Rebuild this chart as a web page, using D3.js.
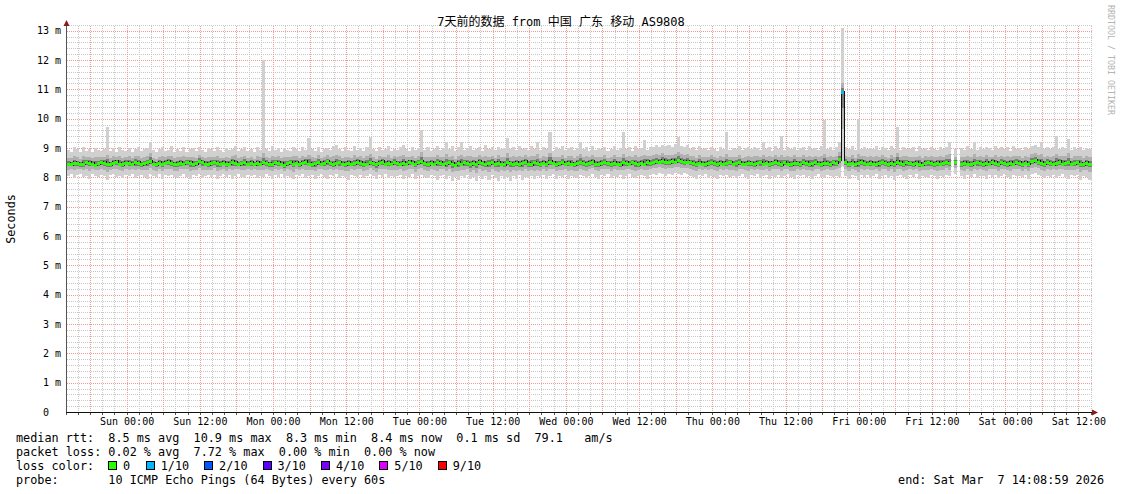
<!DOCTYPE html>
<html><head><meta charset="utf-8">
<script src="https://cdn.jsdelivr.net/npm/d3@7"></script>
<style>
body{margin:0;background:#fff}
svg text{font-family:"DejaVu Sans Mono","Noto Sans CJK SC",monospace;white-space:pre}
</style>
</head><body>
<svg id="c" width="1121" height="494" xmlns="http://www.w3.org/2000/svg"></svg>
<script>
// ---------- data ----------
const endTime = new Date(Date.UTC(2026, 2, 7, 14, 8, 59));
const stepMinutes = 30;
const titleText = "7天前的数据 from 中国 广东 移动 AS9808";
const yAxisTitle = "Seconds";
const watermark = "RRDTOOL / TOBI OETIKER";
const yTickValues = [0,1,2,3,4,5,6,7,8,9,10,11,12,13];
const xTickLabels = ["Sun 00:00","Sun 12:00","Mon 00:00","Mon 12:00","Tue 00:00","Tue 12:00","Wed 00:00","Wed 12:00","Thu 00:00","Thu 12:00","Fri 00:00","Fri 12:00","Sat 00:00","Sat 12:00"];
const lossLabels = ["0","1/10","2/10","3/10","4/10","5/10","9/10"];
const lossColors = ["#26ff00","#00b8ff","#0059ff","#5e00ff","#7e00ff","#dd00ff","#ff0000"];
const statsLines = [
  "median rtt:  8.5 ms avg  10.9 ms max  8.3 ms min  8.4 ms now  0.1 ms sd  79.1   am/s",
  "packet loss: 0.02 % avg  7.72 % max  0.00 % min  0.00 % now"
];
const probeText = "probe:       10 ICMP Echo Pings (64 Bytes) every 60s";
const endText = "end: Sat Mar  7 14:08:59 2026";

// median rtt per 30-min step (ms)
const med = [
8.47,8.45,8.50,8.48,8.44,8.46,8.52,8.49,8.47,8.43,8.48,8.51,
8.50,8.46,8.44,8.49,8.53,8.47,8.45,8.50,8.48,8.46,8.52,8.49,
8.45,8.48,8.51,8.55,8.47,8.44,8.49,8.46,8.50,8.53,8.48,8.45,
8.47,8.50,8.46,8.52,8.49,8.44,8.48,8.55,8.51,8.47,8.45,8.49,
8.52,8.48,8.46,8.50,8.44,8.47,8.53,8.49,8.45,8.48,8.51,8.46,
8.49,8.45,8.50,8.47,8.52,8.48,8.44,8.46,8.51,8.49,8.47,8.43,
8.48,8.52,8.46,8.50,8.45,8.49,8.53,8.47,8.44,8.48,8.51,8.46,
8.50,8.55,8.48,8.45,8.49,8.52,8.47,8.44,8.50,8.46,8.48,8.53,
8.49,8.45,8.47,8.51,8.48,8.44,8.50,8.53,8.47,8.49,8.46,8.52,
8.48,8.45,8.50,8.47,8.53,8.49,8.46,8.51,8.55,8.48,8.44,8.50,
8.47,8.52,8.49,8.45,8.48,8.51,8.46,8.43,8.49,8.47,8.52,8.48,
8.45,8.50,8.47,8.53,8.49,8.44,8.48,8.51,8.46,8.50,8.47,8.45,
8.52,8.48,8.46,8.50,8.44,8.49,8.53,8.47,8.45,8.51,8.48,8.46,
8.50,8.47,8.54,8.49,8.45,8.48,8.52,8.46,8.50,8.47,8.44,8.49,
8.51,8.48,8.46,8.50,8.53,8.47,8.45,8.49,8.52,8.48,8.46,8.50,
8.47,8.44,8.51,8.49,8.46,8.52,8.48,8.45,8.50,8.47,8.53,8.49,
8.52,8.55,8.53,8.57,8.54,8.52,8.56,8.53,8.58,8.55,8.52,8.54,
8.51,8.48,8.46,8.50,8.47,8.44,8.49,8.52,8.48,8.45,8.50,8.47,
8.49,8.52,8.46,8.48,8.51,8.45,8.47,8.50,8.48,8.44,8.49,8.52,
8.47,8.50,8.46,8.49,8.53,8.48,8.45,8.51,8.47,8.44,8.50,8.48,
8.46,8.51,8.49,8.45,8.48,8.52,8.47,8.44,8.50,8.48,8.46,8.51,
8.49,8.62,10.90,8.52,8.47,8.50,8.45,8.49,8.53,8.48,8.46,8.50,
8.47,8.44,8.49,8.52,8.48,8.45,8.50,8.47,8.53,8.49,8.46,8.51,
8.48,8.45,8.50,8.47,8.43,8.49,8.52,8.48,8.46,8.50,8.47,8.49,
8.52,8.48,null,8.51,null,8.46,8.50,8.47,8.44,8.49,8.52,8.48,
8.45,8.50,8.47,8.53,8.49,8.46,8.51,8.48,8.45,8.50,8.47,8.52,
8.49,8.46,8.50,8.47,8.55,8.58,8.53,8.49,8.46,8.51,8.48,8.45,
8.50,8.53,8.47,8.49,8.52,8.46,8.48,8.51,8.47,8.44,8.49,8.46
];
// lowest ping per step (ms)
const lo = [
8.05,8.10,7.98,8.08,8.12,8.02,8.06,7.95,8.10,8.04,8.00,8.09,
8.03,7.92,8.08,8.11,8.01,8.06,7.97,8.09,8.04,8.12,7.99,8.05,
8.08,8.02,7.96,8.10,8.05,8.00,8.11,7.94,8.07,8.03,8.09,8.01,
7.98,8.06,8.10,8.02,7.93,8.08,8.04,8.11,7.99,8.05,8.07,8.00,
8.09,7.96,8.04,8.10,8.02,8.07,7.95,8.06,8.11,8.01,7.98,8.08,
8.03,8.09,7.97,8.05,8.00,8.10,8.04,7.94,8.08,8.02,8.11,7.99,
8.06,8.01,7.93,8.09,8.04,8.10,7.98,8.05,8.07,7.96,8.03,8.10,
8.00,7.95,8.08,8.04,8.11,7.99,8.06,8.02,7.91,8.09,8.05,8.01,
8.08,7.97,8.03,8.10,8.05,7.94,8.07,8.02,8.11,7.98,8.06,8.00,
8.04,8.09,7.96,8.06,8.01,8.10,7.93,8.05,8.08,8.02,7.98,8.07,
8.03,7.90,8.06,8.09,7.95,8.04,7.88,8.01,7.92,8.05,7.97,8.08,
7.93,8.02,7.86,8.06,7.95,8.03,7.90,8.07,7.98,7.89,8.04,7.96,
8.01,7.87,8.05,7.94,8.08,7.91,8.02,7.97,8.06,7.93,8.04,8.00,
8.07,7.96,8.03,8.10,7.95,8.05,8.01,8.08,7.94,8.06,8.02,7.97,
8.09,8.03,7.98,8.06,8.11,8.00,7.95,8.07,8.04,8.10,7.99,8.05,
8.02,8.08,7.96,8.05,8.10,8.01,7.97,8.06,8.09,8.03,7.94,8.07,
8.12,8.08,8.15,8.10,8.06,8.13,8.09,8.16,8.11,8.07,8.14,8.10,
8.05,8.01,7.96,8.08,8.03,8.10,7.98,8.06,8.02,7.95,8.07,8.04,
8.09,8.00,8.06,7.97,8.04,8.10,8.02,7.94,8.07,8.05,8.11,7.99,
8.04,8.08,7.96,8.06,8.01,8.09,7.98,8.05,8.11,8.02,7.95,8.07,
8.03,8.09,8.00,8.06,7.93,8.05,8.10,8.01,7.97,8.08,8.04,8.00,
8.06,8.02,8.40,8.05,7.96,8.08,8.03,7.90,8.07,8.01,8.09,7.98,
8.05,8.10,7.94,8.04,8.08,7.99,8.06,7.92,8.03,8.09,8.00,7.96,
8.07,8.02,8.10,7.95,8.05,8.01,7.97,8.08,8.04,7.93,8.06,8.02,
8.09,8.03,null,8.10,null,8.05,7.96,8.07,8.02,8.10,7.98,8.06,
8.04,7.94,8.08,8.01,8.09,7.97,8.05,8.10,8.02,7.95,8.07,8.03,
8.06,8.00,8.09,7.96,8.12,8.14,8.08,8.03,7.97,8.06,8.01,8.09,
7.98,8.05,8.10,8.02,7.96,8.07,8.03,8.09,7.92,8.04,8.00,7.90
];
// highest ping per step (ms)
const hi = [
8.92,8.88,9.02,8.95,8.86,9.05,8.90,8.98,8.87,9.00,8.93,8.89,
8.96,9.70,8.91,8.99,8.87,9.03,8.94,8.90,9.01,8.88,8.97,9.04,
8.89,8.95,9.00,9.20,8.92,8.86,8.98,9.02,8.90,8.94,9.06,8.88,
8.97,8.91,9.03,8.87,8.95,8.99,8.90,9.05,8.93,8.88,9.01,8.96,
8.90,9.04,8.94,8.88,9.00,8.92,8.97,9.08,8.89,8.95,9.02,8.91,
8.98,8.87,9.03,8.93,12.00,8.96,8.90,9.06,8.92,8.99,8.88,9.01,
8.94,8.90,9.05,8.97,8.89,9.02,8.93,9.35,8.98,8.91,9.04,8.87,
8.96,9.00,8.92,9.07,9.10,8.95,8.89,9.03,8.94,8.90,9.08,8.93,
8.99,8.91,9.04,9.38,8.95,8.89,9.02,8.93,8.97,9.06,8.90,8.98,
8.92,9.03,9.10,8.96,8.90,9.05,8.94,8.99,9.62,8.93,9.04,8.91,
8.97,9.06,8.92,9.01,9.20,8.95,9.08,8.90,9.03,9.20,8.94,9.00,
9.07,8.93,8.98,9.04,8.91,9.09,8.96,9.02,8.92,9.05,8.97,9.01,
9.35,8.95,9.03,8.92,9.06,8.98,9.01,8.94,9.08,8.96,9.20,8.93,
9.04,8.97,9.55,8.91,9.02,8.95,9.07,8.93,8.99,9.05,8.92,9.01,
9.20,8.96,9.03,8.90,9.06,8.94,9.00,8.97,9.04,8.91,8.98,9.06,
8.93,9.01,9.55,8.95,9.03,8.90,9.07,8.96,9.00,9.28,8.94,9.02,
9.05,9.10,9.02,9.12,9.06,9.09,9.03,9.14,9.38,9.08,9.04,9.11,
8.97,9.03,8.92,9.06,8.95,9.00,8.93,9.05,8.98,8.91,9.02,8.96,
9.55,8.94,9.01,8.97,9.06,8.92,8.99,9.04,8.95,9.05,9.00,8.93,
9.20,8.96,9.03,8.91,9.07,8.98,9.40,8.94,9.02,8.97,9.05,8.92,
8.99,9.04,8.93,9.08,8.96,9.01,8.94,9.06,9.95,8.97,9.03,8.92,
9.05,9.20,13.10,9.02,8.96,9.06,8.93,10.00,8.98,9.04,8.95,9.01,
8.97,9.06,8.92,9.03,8.99,8.94,9.07,8.96,9.70,8.93,9.04,8.98,
8.95,9.02,8.91,9.06,8.97,9.01,8.93,9.05,8.98,8.94,9.03,8.96,
9.04,9.20,null,8.95,null,9.00,8.94,9.06,8.97,9.20,8.92,9.03,
8.96,9.05,8.99,8.93,9.07,8.95,9.02,8.98,9.04,8.91,9.06,8.97,
9.00,8.94,9.03,8.97,9.08,9.12,9.05,9.20,8.95,9.02,8.98,9.04,
9.40,8.96,9.03,8.99,9.30,8.94,9.05,8.97,9.02,8.93,9.00,8.95
];
// steps with packet loss (index, lost pings out of 10)
const lossIdx = [254];
const lossTenths = [1];

// ---------- drawing ----------
const svg = d3.select("#c");
const X0 = 66.5, X1 = 1091.5, Y0 = 412, YTOP = 25.5;
const stepMs = stepMinutes * 60000;
const start = new Date(endTime.getTime() - 7 * 864e5);
const x = d3.scaleUtc().domain([start, endTime]).range([X0, X1]);
const y = d3.scaleLinear().domain([0, 13]).range([Y0, 30.7]);
const px = v => Math.round(v) + 0.5;

svg.append("rect").attr("width",1121).attr("height",494).attr("fill","#fff");

// grid
const grid = svg.append("g").attr("shape-rendering","crispEdges");
const minorY = d3.range(1, 67).filter(k => k % 5 !== 0).map(k => k / 5);
grid.selectAll(".hm").data(minorY).join("line")
  .attr("x1", X0).attr("x2", X1).attr("y1", d => px(y(d))).attr("y2", d => px(y(d)))
  .attr("stroke","#c8c8c8").attr("stroke-dasharray","1,1");
const minorX = d3.utcHour.every(2).range(start, endTime).filter(d => d.getUTCHours() % 6 !== 0);
grid.selectAll(".vm").data(minorX).join("line")
  .attr("x1", d => px(x(d))).attr("x2", d => px(x(d))).attr("y1", YTOP).attr("y2", Y0)
  .attr("stroke","#c8c8c8").attr("stroke-dasharray","1,1");
const majorX = d3.utcHour.every(6).range(start, endTime);
grid.selectAll(".vM").data(majorX).join("line")
  .attr("x1", d => px(x(d))).attr("x2", d => px(x(d))).attr("y1", YTOP).attr("y2", Y0)
  .attr("stroke","#f29a9a").attr("stroke-dasharray","1,1");
grid.selectAll(".hM").data(yTickValues.slice(1)).join("line")
  .attr("x1", X0).attr("x2", X1).attr("y1", d => px(y(d))).attr("y2", d => px(y(d)))
  .attr("stroke","#f29a9a").attr("stroke-dasharray","1,1");

// data
svg.append("clipPath").attr("id","plot").append("rect")
  .attr("x", X0).attr("y", YTOP + 2).attr("width", X1 - X0 + 1).attr("height", Y0 - YTOP - 2);
const dg = svg.append("g").attr("clip-path","url(#plot)").attr("shape-rendering","crispEdges");
const steps = med.map((m, i) => {
  const t0 = new Date(start.getTime() + i * stepMs), t1 = new Date(t0.getTime() + stepMs);
  const li = lossIdx.indexOf(i);
  return { i, m, lo: lo[i], hi: hi[i], x0: Math.round(x(t0)), x1: Math.round(x(t1)), loss: li >= 0 ? lossTenths[li] : 0 };
}).filter(d => d.m != null);

// outer smoke: full ping range
dg.selectAll(".s1").data(steps).join("rect")
  .attr("x", d => d.x0).attr("width", d => d.x1 - d.x0)
  .attr("y", d => y(d.hi)).attr("height", d => y(d.lo) - y(d.hi)).attr("fill","#d0d0d0");
// inner smoke: part of the range nearer the median
const inTop = d => d.m + Math.min(0.3, (d.hi - d.m) * 0.45);
const inBot = d => d.m - (d.m - d.lo) * 0.5;
dg.selectAll(".s2").data(steps).join("rect")
  .attr("x", d => d.x0).attr("width", d => d.x1 - d.x0)
  .attr("y", d => y(inTop(d))).attr("height", d => y(inBot(d)) - y(inTop(d)))
  .attr("fill","#b0b0b0");
const coreTop = d => d.m + Math.min(0.15, (d.hi - d.m) * 0.2);
const coreBot = d => d.m - (d.m - d.lo) * 0.22;
dg.selectAll(".s3").data(steps).join("rect")
  .attr("x", d => d.x0).attr("width", d => d.x1 - d.x0)
  .attr("y", d => y(coreTop(d))).attr("height", d => y(coreBot(d)) - y(coreTop(d)))
  .attr("fill","#7a7a7a");
// median transitions
const trans = [];
for (let k = 1; k < steps.length; k++) {
  const a = steps[k-1], b = steps[k];
  if (b.i === a.i + 1) trans.push({ x: b.x0, ya: y(a.m), yb: y(b.m) });
}
dg.selectAll(".tr").data(trans).join("line")
  .attr("x1", d => d.x + 0.5).attr("x2", d => d.x + 0.5)
  .attr("y1", d => Math.min(d.ya, d.yb) - 1.5).attr("y2", d => Math.max(d.ya, d.yb) + 1.5)
  .attr("stroke","#111").attr("stroke-width",1);
dg.selectAll(".md").data(steps).join("rect")
  .attr("x", d => d.x0).attr("width", d => d.x1 - d.x0)
  .attr("y", d => Math.round(y(d.m)) - 1.5).attr("height", 3)
  .attr("fill", d => lossColors[d.loss]);

// axes
const ax = svg.append("g").attr("shape-rendering","crispEdges");
ax.append("line").attr("x1", X0).attr("x2", X0).attr("y1", 415).attr("y2", 24).attr("stroke","#555");
ax.append("line").attr("x1", X0 - 0.5).attr("x2", 1093).attr("y1", Y0 + 0.5).attr("y2", Y0 + 0.5).attr("stroke","#111");
svg.append("path").attr("d", `M${X0-3},26 L${X0},20 L${X0+3},26 Z`).attr("fill","#8a1a1a");
svg.append("path").attr("d", `M1092,409.5 L1098,412.5 L1092,415.5 Z`).attr("fill","#8a1a1a");
ax.selectAll(".xt").data(d3.utcHour.every(2).range(start, endTime)).join("line")
  .attr("x1", d => px(x(d))).attr("x2", d => px(x(d))).attr("y1", Y0 + 1).attr("y2", Y0 + 3)
  .attr("stroke","#555");

// y labels
svg.selectAll(".yl").data(yTickValues).join("text")
  .attr("x", 49).attr("y", d => y(d) + 3.5).attr("text-anchor","end")
  .attr("font-size","10px").attr("fill","#000").text(d => d);
svg.selectAll(".yu").data(yTickValues.slice(1)).join("text")
  .attr("x", 55).attr("y", d => y(d) + 3.5)
  .attr("font-size","10px").attr("fill","#000").text("m");

// x labels
const labelTimes = d3.utcHour.every(12).range(start, endTime);
svg.selectAll(".xl").data(labelTimes).join("text")
  .attr("x", d => x(d) + 0.5).attr("y", 425).attr("text-anchor","middle")
  .attr("font-size","10px").attr("fill","#000").text((d, i) => xTickLabels[i]);

// title & side texts
svg.append("text").attr("x", 561).attr("y", 26).attr("text-anchor","middle")
  .attr("font-size","12px").attr("fill","#000").text(titleText);
svg.append("text").attr("transform","translate(15,219) rotate(-90)").attr("text-anchor","middle")
  .attr("font-size","11.8px").attr("fill","#000").text(yAxisTitle);
svg.append("text").attr("transform","translate(1108,5) rotate(90)")
  .attr("font-size","8.3px").attr("fill","#b4b4b4").text(watermark);

// legend
const leg = svg.append("g").attr("font-size","11.8px").attr("fill","#000");
statsLines.forEach((s, i) => leg.append("text").attr("x", 16).attr("y", 442 + i * 14).text(s));
leg.append("text").attr("x", 16).attr("y", 470).text("loss color:");
let lx = 108;
lossLabels.forEach((lab, i) => {
  leg.append("rect").attr("x", lx + 0.5).attr("y", 461.5).attr("width", 8).attr("height", 8)
    .attr("fill", lossColors[i]).attr("stroke","#000").attr("shape-rendering","crispEdges");
  leg.append("text").attr("x", lx + 15).attr("y", 470).text(lab);
  lx += 30.8 + lab.length * 6.9;
});
leg.append("text").attr("x", 16).attr("y", 484).text(probeText);
leg.append("text").attr("x", 1104).attr("y", 484).attr("text-anchor","end").text(endText);
</script>
</body></html>
